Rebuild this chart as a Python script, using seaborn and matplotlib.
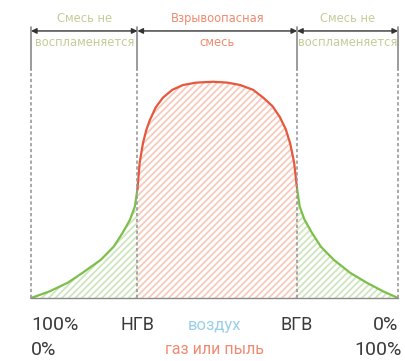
import matplotlib
matplotlib.use("Agg")
import matplotlib.pyplot as plt
import seaborn as sns
import pandas as pd

# Data (concentration of gas in %, relative "intensity")
left_x = [0, 5, 10, 14, 19, 22.5, 25, 27, 28.3, 29]
left_y = [0, 3, 7, 11.5, 17.5, 23.5, 30, 36, 42, 50]
mid_x = [29, 29.6, 30.5, 31.4, 32.4, 34, 36, 38.5, 41.4, 45, 49.6, 53.5, 57,
         60.5, 63.2, 65.8, 67.8, 69.4, 70.6, 71.7, 72.5]
mid_y = [50, 62, 71, 77, 81.7, 87.5, 92, 95.5, 97.7, 98.8, 99.2, 98.8, 97.7,
         95.5, 92, 88, 83, 77.5, 71, 62, 50]
right_x = [72.5, 73.2, 74.5, 76.5, 79, 82.5, 87, 91.5, 96, 100]
right_y = [50, 42, 36, 30, 23.5, 17.5, 11.5, 7, 3, 0]

bounds = [0, 29, 72.5, 100]
zone_top = ["Смесь не", "Взрывоопасная", "Смесь не"]
zone_bottom = ["воспламеняется", "смесь", "воспламеняется"]
zone_colors = ["#c5cc98", "#f08a72", "#c5cc98"]

sns.set_style("white")
plt.rcParams["hatch.linewidth"] = 1.3

fig = plt.figure(figsize=(4.05, 3.61), dpi=100)
ax = fig.add_axes([0, 0, 1, 1])
ax.set_xlim(-8.45, 101.9)
ax.set_ylim(-28.9, 136.7)
ax.axis("off")

green = "#7cbf4a"
red = "#e8573c"

df_l = pd.DataFrame({"x": left_x, "y": left_y})
df_m = pd.DataFrame({"x": mid_x, "y": mid_y})
df_r = pd.DataFrame({"x": right_x, "y": right_y})

for d, c, hc in [(df_l, green, "#cfe5bf"), (df_m, red, "#f6cbbd"), (df_r, green, "#cfe5bf")]:
    ax.fill_between(d["x"], 0, d["y"], facecolor="none", edgecolor=hc, hatch="/////", linewidth=0)
    sns.lineplot(data=d, x="x", y="y", color=c, lw=1.6, ax=ax, sort=False, estimator=None)

# baseline
ax.plot([0, 100], [0, 0], color="#8a8a8a", lw=1)

# boundary lines
for b in bounds:
    ax.plot([b, b], [104.6, 124.3], color="#8a8a8a", lw=1.2)
    ax.plot([b, b], [0, 104.6], color="#9a9a9a", lw=1.2, ls=(0, (2, 1.5)))

# dimension arrows and zone labels
for i in range(3):
    ax.annotate("", xy=(bounds[i], 122.5), xytext=(bounds[i + 1], 122.5),
                arrowprops=dict(arrowstyle="<|-|>", color="#333333", lw=1,
                                mutation_scale=8, shrinkA=0, shrinkB=0))
    cx = (bounds[i] + bounds[i + 1]) / 2
    ax.text(cx, 128.4, zone_top[i], ha="center", va="center", fontsize=8.3,
            color=zone_colors[i])
    ax.text(cx, 117.0, zone_bottom[i], ha="center", va="center", fontsize=8.3,
            color=zone_colors[i])

# bottom labels
dark = "#3a3a3a"
big = dict(fontsize=14, color=dark, family="Roboto", va="center")
ax.text(0, -12.4, "100%", ha="left", **big)
ax.text(0, -24, "0%", ha="left", **big)
ax.text(100, -12.4, "0%", ha="right", **big)
ax.text(101, -24, "100%", ha="right", **big)
ax.text(bounds[1], -12.4, "НГВ", ha="center", fontsize=13, color=dark, family="Roboto", va="center")
ax.text(bounds[2], -12.4, "ВГВ", ha="center", fontsize=13, color=dark, family="Roboto", va="center")
ax.text(50, -12.4, "воздух", ha="center", va="center", fontsize=12, color="#9ccfea", family="Roboto")
ax.text(50, -23.5, "газ или пыль", ha="center", va="center", fontsize=11.5, color="#f08a72", family="Roboto")

fig.savefig("out.png", dpi=100, facecolor="white")
